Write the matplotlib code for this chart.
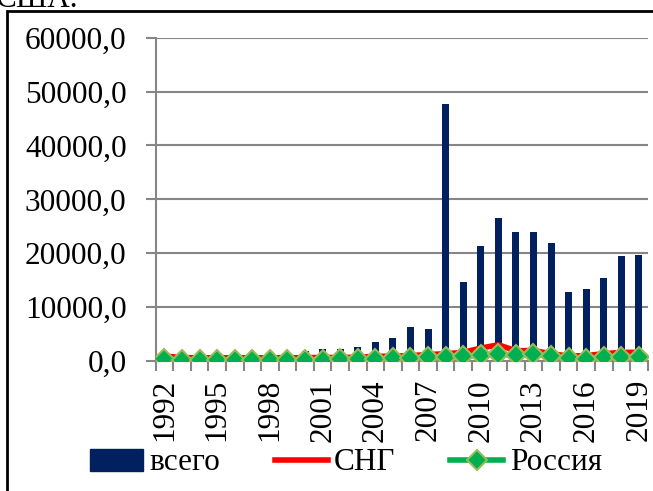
import matplotlib
matplotlib.use("Agg")
import matplotlib.pyplot as plt
from matplotlib.patches import Rectangle
from matplotlib.lines import Line2D
from matplotlib.ticker import FuncFormatter
import numpy as np

years = list(range(1992, 2020))
vsego = [1500, 700, 600, 500, 600, 700, 600, 800, 1780, 2280, 2150, 2590, 3570, 4310,
         6350, 5980, 47780, 14690, 21350, 26600, 23880, 23940, 21850, 12780, 13390,
         15370, 19500, 19690]
sng = [920, 620, 600, 600, 600, 600, 600, 600, 620, 650, 650, 700, 850, 900,
       1000, 1200, 1350, 1600, 2400, 3000, 1900, 1950, 1350, 920, 1000, 1350,
       1600, 1600]
russia = [370, 250, 250, 250, 250, 250, 250, 250, 250, 250, 280, 300, 380, 480,
          550, 740, 760, 900, 1050, 1230, 1100, 1230, 900, 500, 450, 700, 800, 800]
tick_years = list(range(1992, 2020, 3))

W, H = 653, 491
fig = plt.figure(figsize=(W / 100, H / 100), dpi=100)
plt.rcParams['font.family'] = ['Liberation Serif', 'DejaVu Serif']
fs = 22.5

ax = fig.add_axes([155.7 / W, 1 - 361 / H, (647.7 - 155.7) / W, (361 - 37.7) / H])
x = np.arange(len(years))
gray = '#868686'

ax.bar(x, vsego, width=0.4, color='#002060', zorder=2, label='всего')
ax.plot(x, sng, color='#FF0000', lw=4, zorder=3, label='СНГ')
ax.plot(x, russia, color='#00B050', lw=4, marker='D', markersize=10,
        markerfacecolor='#00B050', markeredgecolor='#9BBB59', markeredgewidth=1.5,
        zorder=4, label='Россия')

ax.set_xlim(-0.5, len(years) - 0.5)
ax.set_ylim(0, 60000)
ax.set_yticks(np.arange(0, 60001, 10000))
ax.yaxis.set_major_formatter(FuncFormatter(lambda v, p: f"{v:.1f}".replace('.', ',')))
ax.grid(axis='y', color=gray, lw=1.5, zorder=0)
for s in ['top', 'right']:
    ax.spines[s].set_visible(False)
for s in ['left', 'bottom']:
    ax.spines[s].set_color(gray)
    ax.spines[s].set_linewidth(1.5)

ax.set_xticks([years.index(y) for y in tick_years])
ax.set_xticklabels([str(y) for y in tick_years], rotation=90, fontsize=fs)
ax.set_xticks(np.arange(-0.5, len(years), 1.0), minor=True)
ax.tick_params(axis='x', which='major', length=0, pad=13)
ax.tick_params(axis='x', which='minor', length=7, color=gray, width=1.5)
ax.tick_params(axis='y', length=7, color=gray, width=1.5, labelsize=fs, pad=14)

handles = [Rectangle((0, 0), 1, 1, color='#002060'),
           Line2D([], [], color='#FF0000', lw=4),
           Line2D([], [], color='#00B050', lw=4, marker='D', markersize=10,
                  markerfacecolor='#00B050', markeredgecolor='#9BBB59', markeredgewidth=1.5)]
fig.legend(handles, ['всего', 'СНГ', 'Россия'], loc='center left',
           bbox_to_anchor=(90 / W, 1 - 463 / H), ncol=3, frameon=False, fontsize=fs,
           handlelength=1.7, handletextpad=0.2, columnspacing=1.75, borderaxespad=0,
           borderpad=0)

fig.add_artist(Rectangle((7 / W, -0.1), 1.2, 0.1 + (H - 11) / H, transform=fig.transFigure,
                         fill=False, edgecolor='black', lw=2))
fig.text(-4 / W, 1 - 7 / H, 'США.', fontsize=fs, va='baseline', ha='left')

fig.savefig('out.png', dpi=100)
